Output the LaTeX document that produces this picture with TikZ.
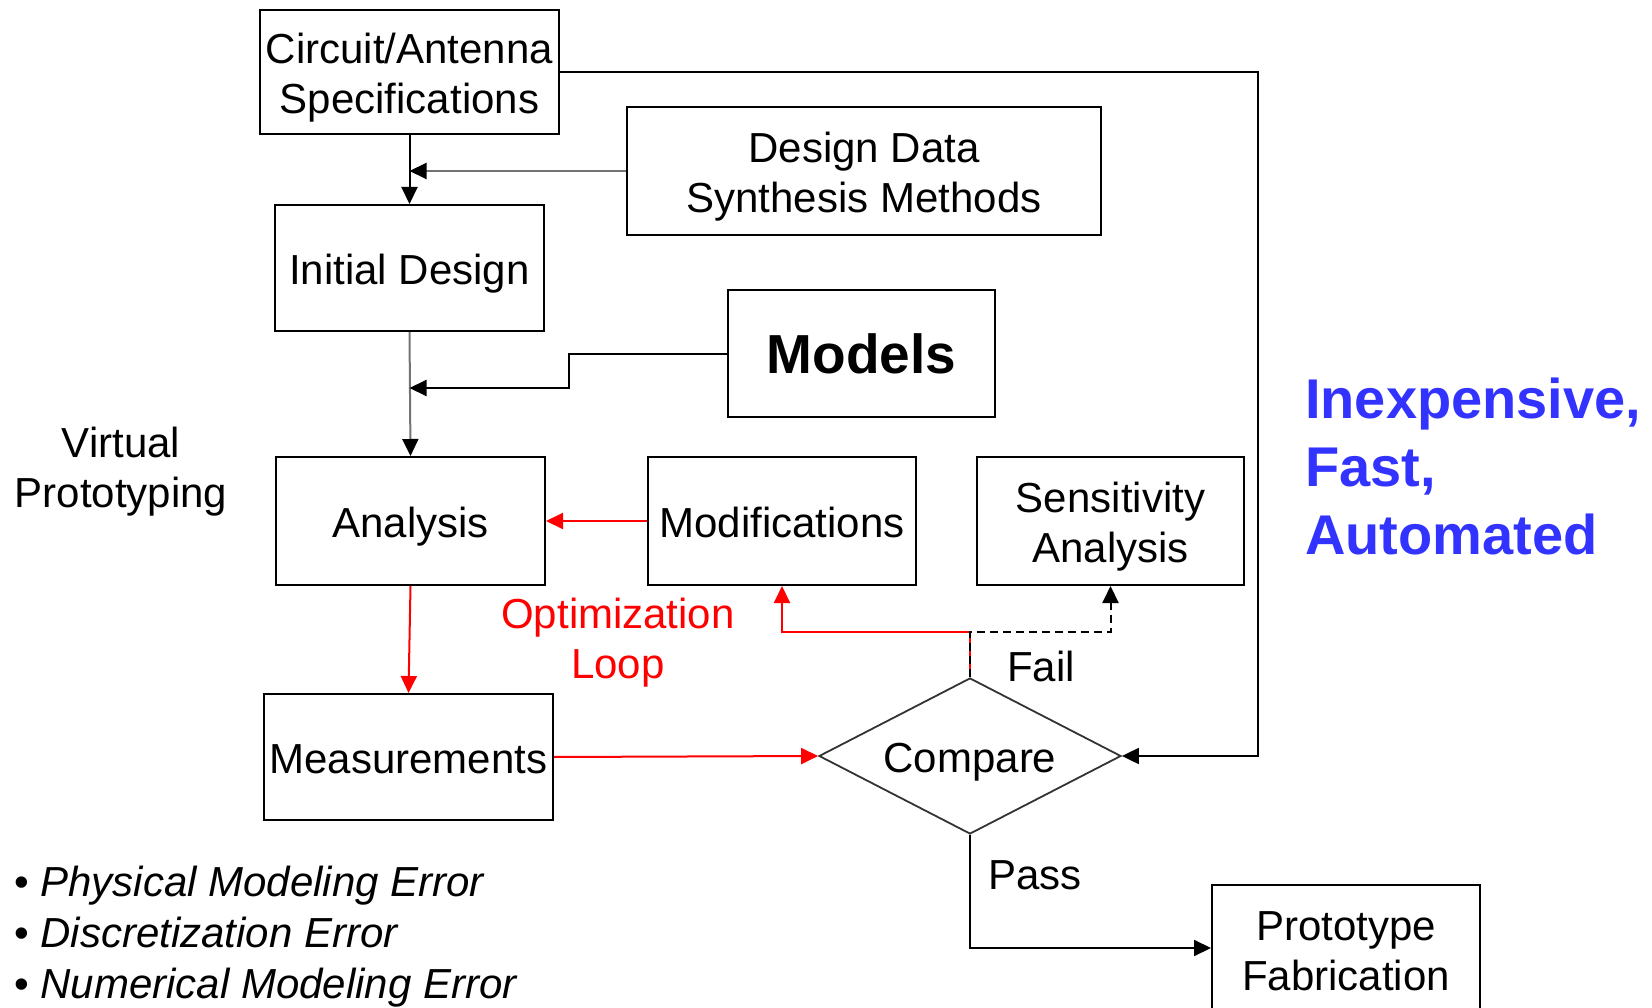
\documentclass[tikz,border=0pt]{standalone}
\usepackage{fontspec}
\setmainfont{Liberation Sans}
\usetikzlibrary{arrows.meta,shapes.geometric,calc}
\definecolor{loopred}{RGB}{255,0,0}
\definecolor{claimblue}{RGB}{51,51,255}
% invisible first-line strut that lowers two-line box texts onto the box middle
\newcommand\capslift[1][41.5pt]{\rule{0pt}{#1}}

\begin{document}
\begin{tikzpicture}[x=1pt,y=-1pt,
  txt/.style={font=\fontsize{42}{50}\selectfont, align=center, inner sep=0pt},
  % fixed line height and depth so that one-line capitals sit centred
  steady/.style={execute at begin node={\rule{0pt}{41.5pt}},
                 execute at end node={\rule[-9pt]{0pt}{0pt}}},
  box/.style={txt, draw, line width=2pt, minimum height=126pt},
  decision/.style={txt, steady, diamond, draw=black!80, line width=1.8pt, aspect=2,
    minimum width=302pt, minimum height=156pt},
  link/.style={line width=2pt, -{Triangle[length=17pt,width=16pt]}},
  graylink/.style={line width=2pt, draw=black!55, -{Triangle[length=17pt,width=16pt,color=black]}},
  redlink/.style={link, draw=loopred, color=loopred},
]
\useasboundingbox (0,0) rectangle (1652,1008);
\clip (0,0) rectangle (1652,1008);

% flow boxes
\node[box, minimum width=299pt, minimum height=124pt] (spec) at (409.5,72) {\capslift Circuit/Antenna\\Specifications};
\node[box, minimum width=474pt, minimum height=128pt] (dds) at (864,171) {\capslift Design Data\\Synthesis Methods};
\node[box, steady, minimum width=269pt] (init) at (409.5,268) {Initial Design};
\node[box, minimum width=267pt, minimum height=127pt, font=\fontsize{55}{60}\selectfont\bfseries] (models) at (861.5,353.5) {Models};
\node[box, steady, minimum width=269pt, minimum height=128pt] (analysis) at (410.5,521) {Analysis};
\node[box, steady, minimum width=268pt, minimum height=128pt] (modif) at (782,521) {Modifications};
\node[box, minimum width=267pt, minimum height=128pt] (sens) at (1110.5,521) {\capslift Sensitivity\\Analysis};
\node[box, steady, minimum width=289pt] (meas) at (408.5,757) {Measurements};
\node[decision] (compare) at (970,756) {Compare};
\node[box, minimum width=268pt] (proto) at (1346,948) {\capslift[36pt]Prototype\\Fabrication};

% free labels
\node[txt] (vp) at (121,472) {Virtual\\Prototyping};
\node[txt, text=loopred] (optloop) at (618,642.5) {Optimization\\Loop};
\node[txt] (fail) at (1041,666) {Fail};
\node[txt] (pass) at (1035,875) {Pass};
\node[txt, align=left, anchor=west, text=claimblue,
  font=\fontsize{56}{68}\selectfont\bfseries] (claims) at (1305,466) {Inexpensive,\\Fast,\\Automated};
\node[txt, align=left, anchor=west, font=\fontsize{42}{51}\selectfont] (errors) at (14,937)
  {• \textit{Physical Modeling Error}\\• \textit{Discretization Error}\\• \textit{Numerical Modeling Error}};

% bend points
\coordinate (mstep) at (569,388);
\coordinate (rside) at (1258,72);
\coordinate (split) at (970,632);

% connectors
\draw[link] (spec.south) -- (init.north);
\draw[graylink] (dds.west) -- (dds.west -| init.north);
\draw[graylink] (init.south) -- (analysis.north);
\draw[link] (models.west) -| (mstep) -- (mstep -| init.south);
\draw[redlink] (modif.west) -- (analysis.east);
\draw[redlink] (analysis.south) -- (meas.north);
\draw[redlink] (meas.east) -- (compare.west);
\draw[link] (spec.east) -- (rside) |- (compare.east);
\draw[redlink] (compare.north) -- (split) -| (modif.south);
\draw[link, dashed, dash pattern=on 8pt off 5pt] (compare.north) -- (split) -| (sens.south);
\draw[link] (compare.south) |- (proto.west);
\end{tikzpicture}
\end{document}
